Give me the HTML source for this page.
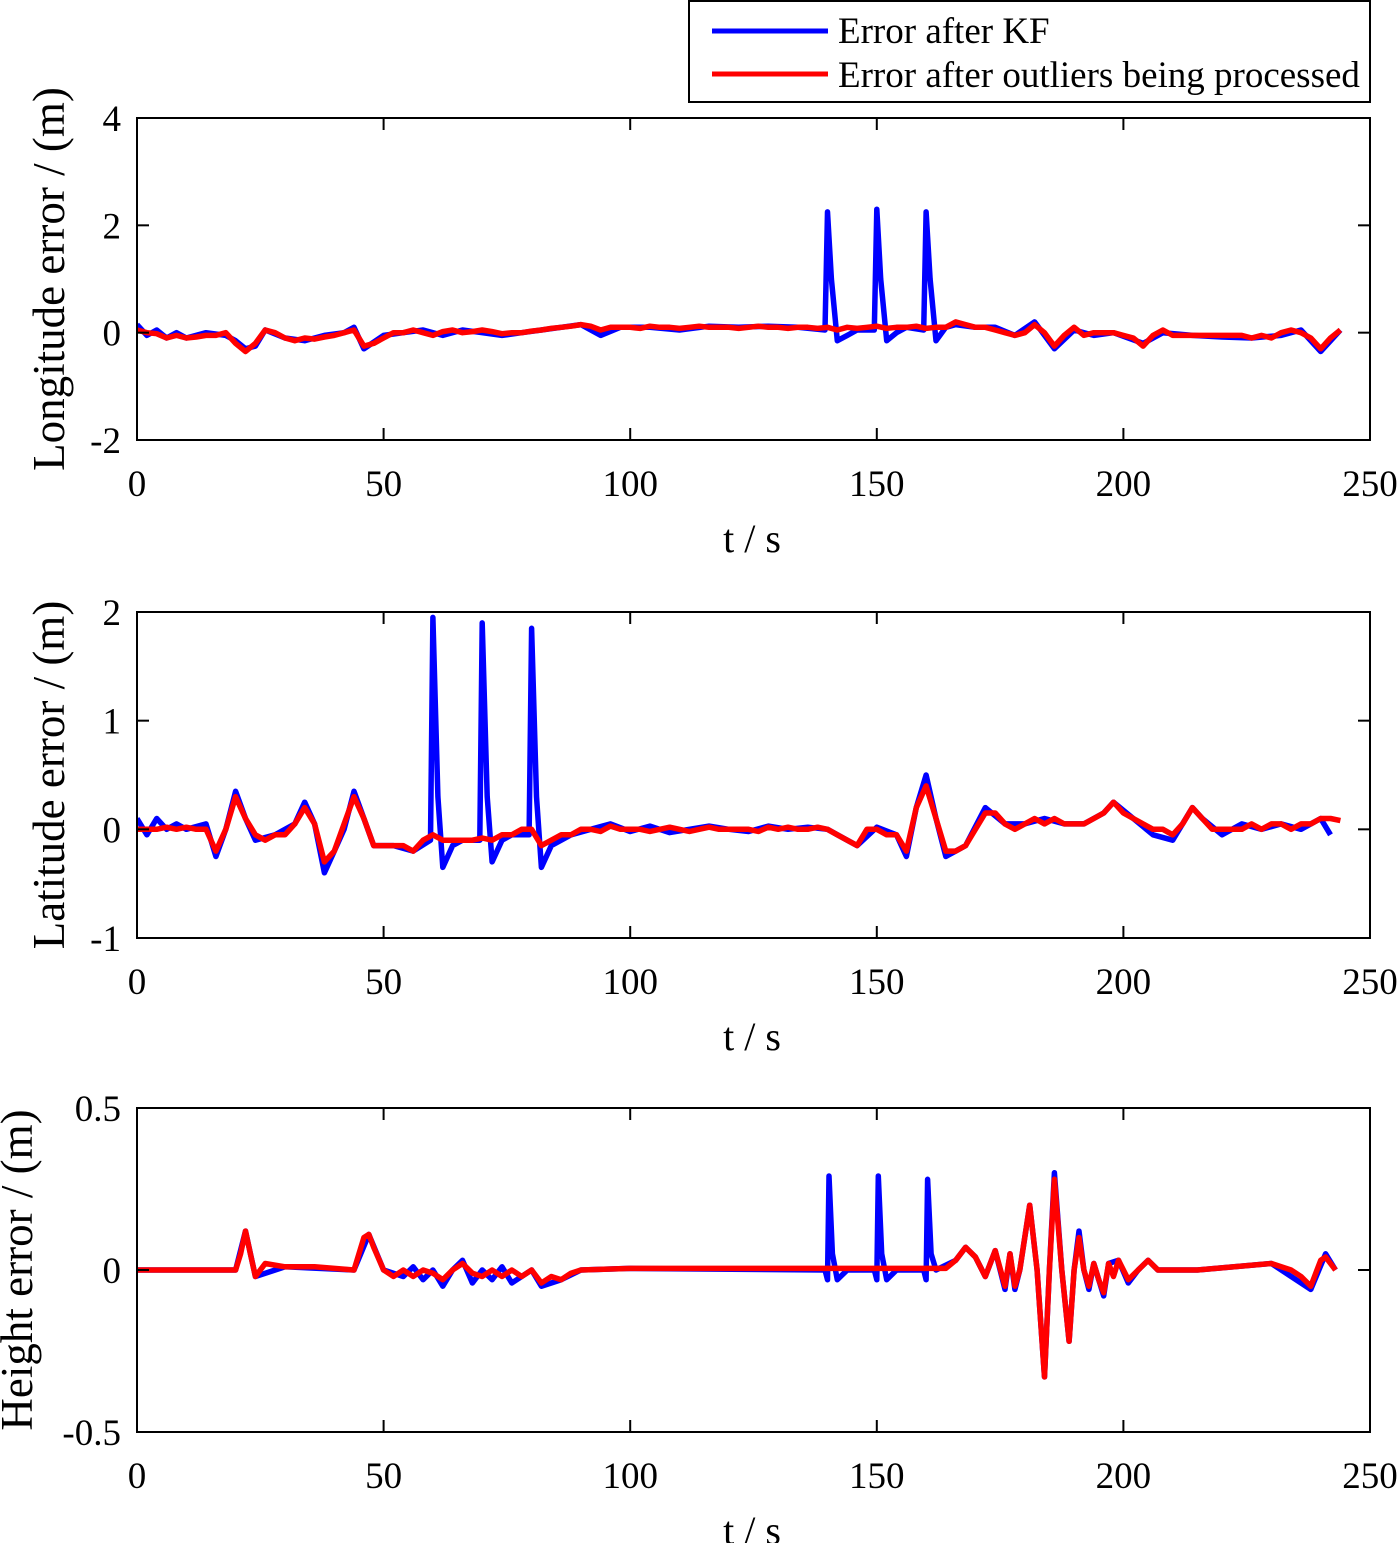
<!DOCTYPE html>
<html><head><meta charset="utf-8"><style>
html,body{margin:0;padding:0;background:#fff;}
svg{display:block;font-family:"Liberation Serif",serif;}
</style></head><body>
<svg id="chart" width="1400" height="1543" viewBox="0 0 1400 1543"></svg>
<script>
// ---- data ----
const xTicks=[0,50,100,150,200,250];
const y1Ticks=[4,2,0,-2];
const y2Ticks=[2,1,0,-1];
const y3Ticks=[0.5,0,-0.5];
const y3TickLabels=["0.5","0","-0.5"];
const red1V=[0.05,0,-0.02,-0.1,-0.05,-0.1,-0.08,-0.05,-0.05,0,
-0.2,-0.35,-0.2,0.05,0,-0.1,-0.15,-0.1,-0.12,-0.08,
-0.05,0,0.05,-0.25,-0.2,-0.1,0,0,0.05,0,
-0.05,0.02,0.05,0,0.02,0.05,0.02,-0.02,0,0,
0.03,0.05,0.08,0.1,0.12,0.15,0.12,0.05,0.1,0.1,
0.1,0.08,0.12,0.1,0.1,0.08,0.1,0.12,0.1,0.1,
0.1,0.08,0.1,0.12,0.1,0.1,0.08,0.1,0.1,0.08,
0.1,0.05,0.1,0.08,0.1,0.12,0.08,0.1,0.1,0.12,
0.08,0.1,0.1,0.2,0.15,0.1,0.1,0.05,0,-0.05,
0,0.15,0,-0.25,-0.05,0.1,-0.05,0,0,0,
-0.05,-0.1,-0.25,-0.05,0.05,-0.05,-0.05,-0.05,-0.05,-0.05,
-0.05,-0.05,-0.05,-0.1,-0.05,-0.1,0,0.05,0,-0.1,
-0.3,-0.1,0.05];
const blue1T=[0,2,4,6,8,10,14,18,20,22,24,26,30,34,38,42,44,46,50,54,58,62,66,70,74,78,82,86,90,94,98,104,110,116,122,128,134,139.5,140,140.8,142,144,146,149.5,150,150.8,152,154,156,159.5,160,160.8,162,164,166,170,174,178,182,186,190,194,198,204,208,214,220,226,232,236,240,244];
const blue1V=[0.15,-0.05,0.05,-0.1,0,-0.1,0,-0.05,-0.15,-0.3,-0.25,0.05,-0.1,-0.15,-0.05,0,0.1,-0.3,-0.05,0,0.05,-0.05,0.05,0,-0.05,0,0.05,0.1,0.15,-0.05,0.1,0.1,0.05,0.12,0.1,0.12,0.1,0.05,2.25,1.0,-0.15,-0.05,0.05,0.05,2.3,1.0,-0.15,0,0.1,0.05,2.25,1.0,-0.15,0.1,0.15,0.1,0.1,-0.05,0.2,-0.3,0.05,-0.05,0,-0.2,0,-0.05,-0.08,-0.1,-0.05,0.05,-0.35,0.05];
const red2V=[0,0,0,0.02,0,0.02,0,0,-0.2,0,
0.3,0.1,-0.05,-0.1,-0.05,-0.05,0.05,0.2,0.05,-0.3,
-0.2,0.05,0.3,0.1,-0.15,-0.15,-0.15,-0.15,-0.2,-0.1,
-0.05,-0.1,-0.1,-0.1,-0.1,-0.08,-0.1,-0.05,-0.05,0,
0,-0.15,-0.1,-0.05,-0.05,0,0,-0.02,0.03,0,
0,0,-0.02,0,0.02,0,-0.02,0,0.02,0,
0,0,0,-0.02,0.02,0,0.02,0,0,0.02,
0,-0.05,-0.1,-0.15,0,0,-0.05,-0.05,-0.2,0.2,
0.4,0.1,-0.2,-0.2,-0.15,0,0.15,0.15,0.05,0,
0.05,0.1,0.05,0.1,0.05,0.05,0.05,0.1,0.15,0.25,
0.15,0.1,0.05,0,0,-0.05,0.05,0.2,0.1,0,
0,0,0,0.05,0,0.05,0.05,0,0.05,0.05,
0.1,0.1,0.08];
const blue2T=[0,2,4,6,8,10,14,16,18,20,22,24,28,32,34,36,38,40,42,44,46,48,52,56,59.5,60,61,62,64,66,69.5,70,71,72,74,76,79.5,80,81,82,84,88,92,96,100,104,108,112,116,120,124,128,132,136,140,144,146,150,154,156,158,160,162,164,166,168,172,176,180,184,188,192,196,198,202,206,210,214,216,220,224,228,232,236,240,242];
const blue2V=[0.1,-0.05,0.1,0,0.05,0,0.05,-0.25,0,0.35,0.1,-0.1,-0.05,0.05,0.25,0.05,-0.4,-0.2,0,0.35,0.1,-0.15,-0.15,-0.2,-0.1,1.95,0.3,-0.35,-0.15,-0.1,-0.1,1.9,0.3,-0.3,-0.1,-0.05,-0.05,1.85,0.3,-0.35,-0.15,-0.05,0,0.05,-0.02,0.03,-0.03,0,0.03,0,-0.02,0.03,0,0.02,0,-0.1,-0.15,0.02,-0.05,-0.25,0.2,0.5,0.1,-0.25,-0.2,-0.15,0.2,0.05,0.05,0.1,0.05,0.05,0.15,0.25,0.1,-0.05,-0.1,0.2,0.1,-0.05,0.05,0,0.05,0,0.1,-0.05];
const red3T=[0,20,21,22,23,24,26,30,36,44,46,47,48,50,52,54,56,58,60,62,64,66,68,70,72,74,76,78,80,82,84,86,88,90,100,140,164,166,168,170,172,174,176,177,178,179,181,182.5,184,185,186,187.5,189,190,191,192,193,194,195,196,197,198,199,201,203,205,207,215,230,234,236,238,240,241,243];
const red3V=[0,0,0.05,0.12,0.05,-0.02,0.02,0.01,0.01,0,0.1,0.11,0.07,0,-0.02,0,-0.02,0,-0.01,-0.03,0,0.02,-0.01,-0.02,0,-0.02,0,-0.02,0,-0.04,-0.02,-0.03,-0.01,0,0.005,0.005,0.005,0.03,0.07,0.04,-0.02,0.06,-0.05,0.05,-0.05,0,0.2,0,-0.33,0,0.28,0,-0.22,0,0.1,0,-0.05,0.02,-0.03,-0.07,0.02,-0.02,0.03,-0.03,0,0.03,0,0,0.02,0,-0.02,-0.05,0.03,0.04,0];
const blue3T=[0,20,22,24,30,44,47,50,54,56,58,60,62,64,66,68,70,72,74,76,80,82,86,90,100,139.5,140,140.3,141,142,144,149.5,150,150.3,151,152,154,159.5,160,160.3,161,162,166,168,170,172,174,176,177,178,179,181,182.5,184,185,186,187.5,189,190,191,192,193,194,196,197,199,201,203,205,207,215,230,238,241,243];
const blue3V=[0,0,0.12,-0.02,0.01,0,0.11,0,-0.02,0.01,-0.03,0,-0.05,0,0.03,-0.04,0,-0.03,0.01,-0.04,0,-0.05,-0.03,0,0.005,0,-0.03,0.29,0.05,-0.03,0,0,-0.03,0.29,0.05,-0.03,0,0,-0.03,0.28,0.05,0,0.03,0.07,0.04,-0.02,0.06,-0.06,0.05,-0.06,0,0.2,0,-0.33,0,0.3,0,-0.22,0,0.12,0,-0.06,0.02,-0.08,0.02,0.03,-0.04,0,0.03,0,0,0.02,-0.06,0.05,0];

const NS="http://www.w3.org/2000/svg";
const svg=document.getElementById('chart');
function mk(tag,attrs,parent){const e=document.createElementNS(NS,tag);for(const k in attrs)e.setAttribute(k,attrs[k]);(parent||svg).appendChild(e);return e;}
const L=137,R=1370;
function xs(t){return L+(t/250)*(R-L);}

function panel(name,top,bot,ymin,ymax,yTicks,yLabels,ylabel,ylabX,series){
  const g=mk('g',{});
  
  
  const ys=v=>bot-(v-ymin)/(ymax-ymin)*(bot-top);
  const clip=mk('clipPath',{id:'c'+name},g);
  mk('rect',{x:L,y:top,width:R-L,height:bot-top},clip);
  series.forEach(s=>{
    const pts=s.t.map((t,i)=>xs(t).toFixed(1)+','+ys(s.v[i]).toFixed(1)).join(' ');
    const pl=mk('polyline',{points:pts,fill:'none',stroke:s.c,'stroke-width':5.5,'stroke-linejoin':'round','clip-path':'url(#c'+name+')'},g);
    
    
  });
  const box=mk('rect',{x:L,y:top,width:R-L,height:bot-top,fill:'none',stroke:'#000','stroke-width':2},g);
  
  
  xTicks.forEach(t=>{
    const x=xs(t);
    mk('line',{x1:x,y1:bot,x2:x,y2:bot-12,stroke:'#000','stroke-width':2},g);
    mk('line',{x1:x,y1:top,x2:x,y2:top+12,stroke:'#000','stroke-width':2},g);
    const tx=mk('text',{x:x,y:bot+56,'font-size':37,'text-anchor':'middle'},g);
    tx.textContent=t;
    
    
  });
  yTicks.forEach((v,i)=>{
    const y=ys(v);
    mk('line',{x1:L,y1:y,x2:L+12,y2:y,stroke:'#000','stroke-width':2},g);
    mk('line',{x1:R,y1:y,x2:R-12,y2:y,stroke:'#000','stroke-width':2},g);
    const tx=mk('text',{x:121,y:y+13,'font-size':37,'text-anchor':'end'},g);
    tx.textContent=yLabels[i];
    
    
  });
  const xl=mk('text',{x:752,y:bot+112,'font-size':40,'text-anchor':'middle'},g);
  xl.textContent='t / s';
  
  
  const cy=(top+bot)/2;
  const yl=mk('text',{x:ylabX,y:cy,'font-size':45,'text-anchor':'middle',transform:'rotate(-90 '+ylabX+' '+cy+')'},g);
  yl.textContent=ylabel;
  
  
}
const grid=red1V.map((v,i)=>i*2);
panel('longitude',118,440,-2,4,y1Ticks,y1Ticks.map(String),'Longitude error / (m)',64,
 [{t:blue1T,v:blue1V,c:'#0000ff',n:'kf'},{t:grid,v:red1V,c:'#ff0000',n:'processed'}]);
panel('latitude',612,938,-1,2,y2Ticks,y2Ticks.map(String),'Latitude error / (m)',64,
 [{t:blue2T,v:blue2V,c:'#0000ff',n:'kf'},{t:red2V.map((v,i)=>i*2),v:red2V,c:'#ff0000',n:'processed'}]);
panel('height',1108,1432,-0.5,0.5,y3Ticks,y3TickLabels,'Height error / (m)',32,
 [{t:blue3T,v:blue3V,c:'#0000ff',n:'kf'},{t:red3T,v:red3V,c:'#ff0000',n:'processed'}]);

// legend
const lg=mk('g',{});


mk('rect',{x:689,y:1,width:681,height:101,fill:'#fff',stroke:'#000','stroke-width':2},lg);
mk('line',{x1:712,y1:31,x2:828,y2:31,stroke:'#0000ff','stroke-width':5},lg);
mk('line',{x1:712,y1:74,x2:828,y2:74,stroke:'#ff0000','stroke-width':5},lg);
const l1=mk('text',{x:838,y:43,'font-size':37},lg);
l1.textContent='Error after KF';


const l2=mk('text',{x:838,y:87,'font-size':37},lg);
l2.textContent='Error after outliers being processed';


</script>
</body></html>
